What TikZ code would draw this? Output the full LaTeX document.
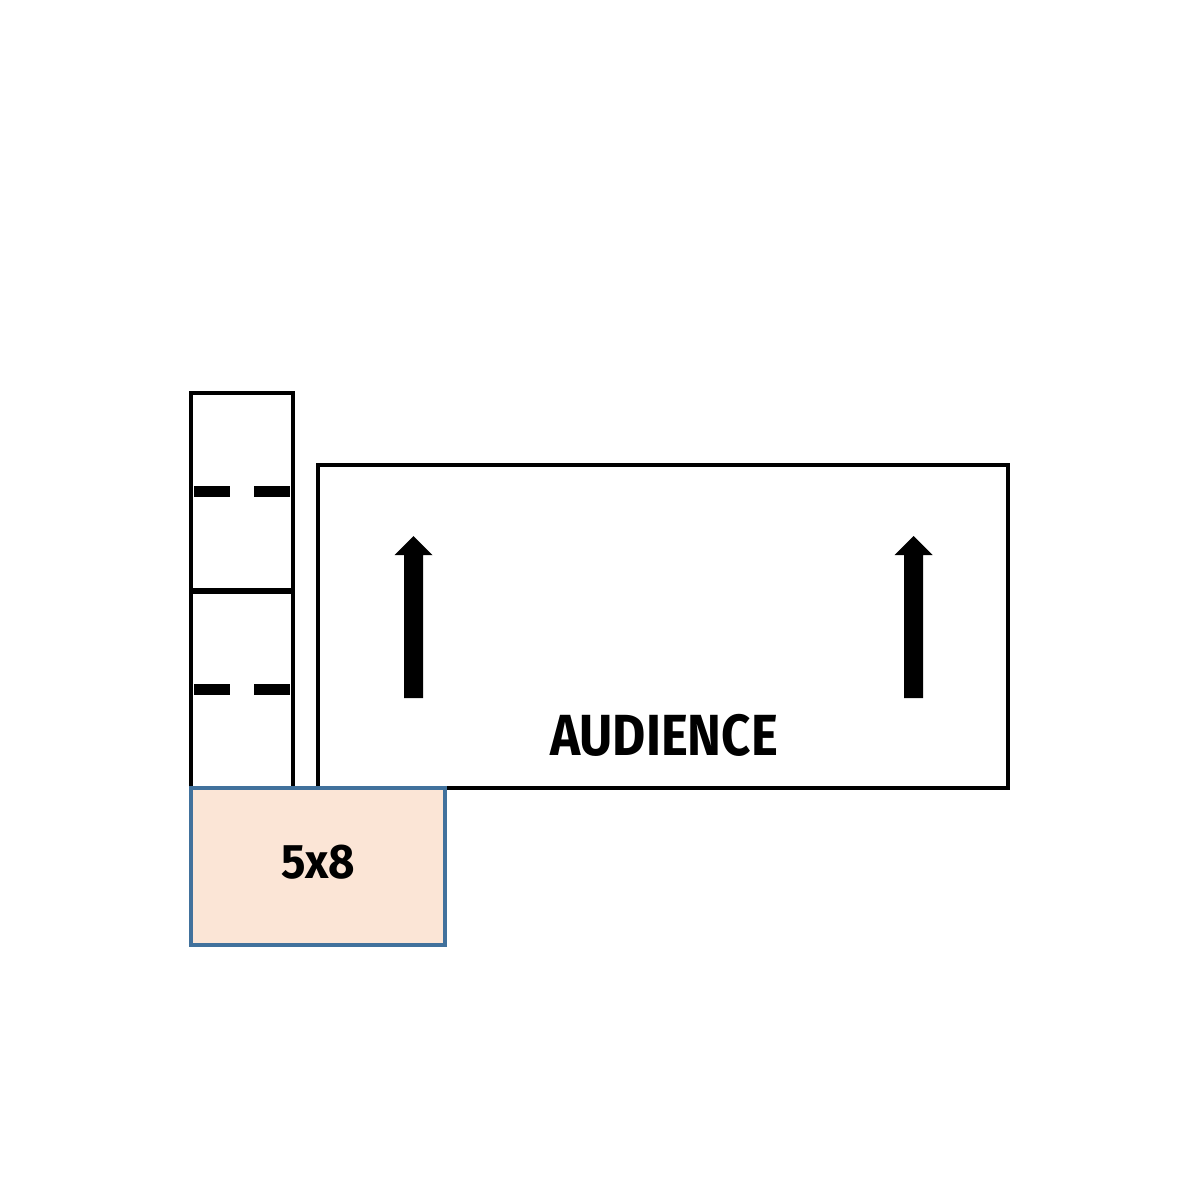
\documentclass[tikz,border=0pt]{standalone}
\usepackage{fontspec}
\newfontfamily\planfont[FakeStretch=0.88]{Fira Sans}
\newfontfamily\riserfont[FakeStretch=0.94]{Fira Sans}
\definecolor{riserfill}{HTML}{FBE5D6}
\definecolor{riserline}{HTML}{41719C}
\def\stagearrow(#1){\fill[shift={(#1,0)}] (-9.5,698) -- (-9.5,555) -- (-19,555) -- (0,536) -- (19,555) -- (9.5,555) -- (9.5,698) -- cycle;}

\begin{document}
\begin{tikzpicture}[x=0.01cm, y=-0.01cm]
			%%%%% START %%%%%
			\useasboundingbox (0,0) rectangle (1200,1200);
			
			\draw[line width=1pt] (191, 393) rectangle (293, 590);
			\draw[line width=1pt] (191, 592) rectangle (293, 788);
			
			\draw[fill=black] (195, 487) rectangle (229, 496);
			\draw[fill=black] (255, 487) rectangle (289, 496);
			\draw[fill=black] (195, 685) rectangle (229, 694);
			\draw[fill=black] (255, 685) rectangle (289, 694);
			
			\draw[line width=0.9pt] (318, 465) rectangle (1008, 788);
			\stagearrow(413.5)
			\stagearrow(913.5)
			\node (audience) at (664, 735) {\fontsize{16.5}{18}\planfont\bfseries AUDIENCE};
			
			\draw[line width=0.95pt, draw=riserline, fill=riserfill] (191, 788) rectangle (445, 945);
			\node (riser) at (318, 862) {\fontsize{13.8}{16}\riserfont\bfseries 5x8};
			
			%%%%% END %%%%%
\end{tikzpicture}
\end{document}
